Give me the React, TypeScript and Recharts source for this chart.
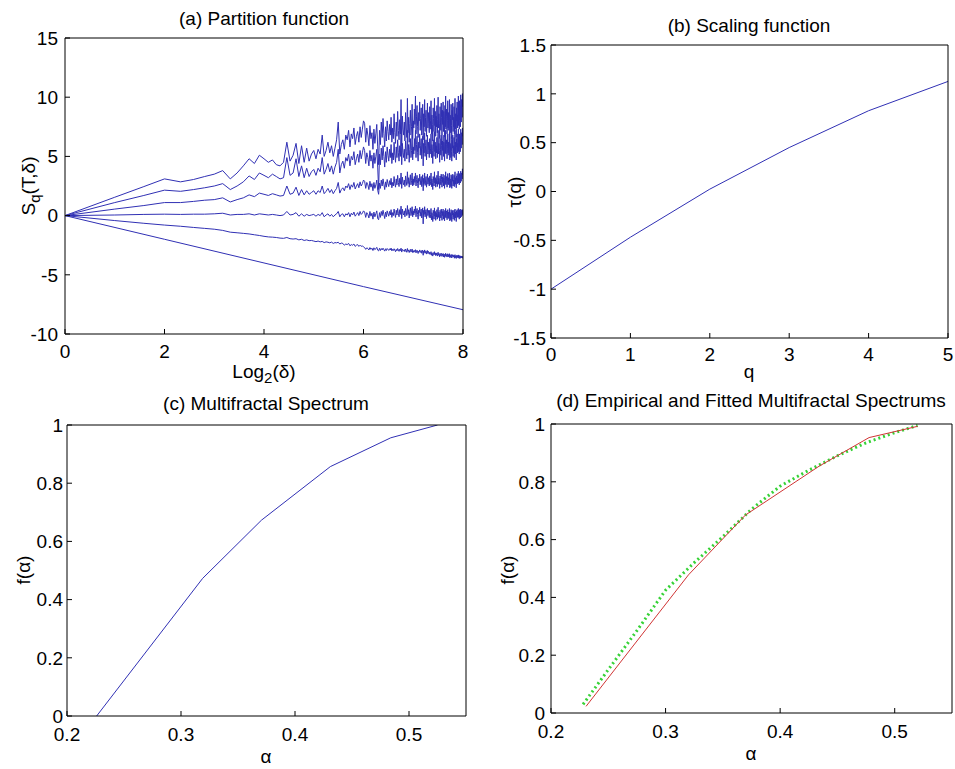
import React from 'react'
import { LineChart, Line, XAxis, YAxis } from 'recharts'

const FONT = '"Liberation Sans", Arial, Helvetica, sans-serif'
const BLUE = '#3030b4'
const RED = '#d03434'
const GREEN = '#36d236'

// (a) partition function S_q(T, delta), one value per box size delta = 1..256
const S_Q0_DELTA = [1, 4, 16, 64, 256]
const S_Q0 = [0, -2, -4, -6, -7.95]

const S_Q1 = [
  0, -0.42, -0.65, -0.8, -0.9, -1.0, -1.08, -1.15, -1.25, -1.4, -1.45, -1.5, -1.55, -1.62, -1.68, -1.75,
  -1.8, -1.82, -1.85, -1.9, -1.92, -1.85, -1.95, -1.98, -1.95, -2.05, -2.0, -2.1, -2.05, -2.12, -2.1, -2.15,
  -2.2, -2.15, -2.22, -2.18, -2.28, -2.22, -2.25, -2.3, -2.24, -2.35, -2.28, -2.3, -2.25, -2.4, -2.32, -2.35,
  -2.5, -2.4, -2.45, -2.35, -2.55, -2.45, -2.5, -2.4, -2.6, -2.5, -2.45, -2.6, -2.5, -2.6, -2.55, -2.65,
  -2.7, -2.85, -2.72, -2.78, -2.9, -2.7, -2.85, -2.75, -2.95, -2.72, -2.88, -2.8, -2.68, -2.92, -2.98, -2.76,
  -2.95, -2.78, -2.9, -2.75, -2.88, -3.0, -2.8, -2.95, -2.78, -2.86, -2.94, -2.8, -2.9, -2.74, -2.98, -2.85,
  -2.95, -2.8, -2.92, -3.05, -2.85, -2.98, -2.78, -2.9, -3.02, -2.84, -2.96, -2.75, -3.08, -2.85, -2.94, -3.0,
  -2.88, -3.05, -2.82, -2.95, -3.1, -2.78, -3.02, -2.9, -3.12, -2.95, -2.85, -3.08, -2.98, -2.82, -3.12, -2.96,
  -3.1, -2.95, -3.05, -2.88, -3.15, -3.0, -2.92, -3.1, -3.2, -3.0, -3.05, -2.9, -3.12, -3.02, -2.95, -3.18,
  -3.05, -2.92, -3.35, -3.0, -3.12, -2.9, -3.18, -3.05, -2.98, -3.25, -3.08, -2.95, -3.2, -3.02, -3.12, -3.25,
  -3.1, -3.28, -3.2, -3.05, -3.35, -3.15, -3.25, -3.42, -3.12, -3.2, -3.32, -3.05, -3.25, -3.15, -3.38, -3.2,
  -3.3, -3.15, -3.42, -3.28, -3.1, -3.35, -3.22, -3.3, -3.48, -3.2, -3.3, -3.4, -3.18, -3.28, -3.45, -3.25,
  -3.35, -3.2, -3.48, -3.28, -3.38, -3.52, -3.25, -3.4, -3.18, -3.45, -3.32, -3.28, -3.5, -3.38, -3.22, -3.45,
  -3.3, -3.48, -3.4, -3.22, -3.55, -3.35, -3.4, -3.52, -3.28, -3.45, -3.58, -3.32, -3.42, -3.3, -3.5, -3.38,
  -3.5, -3.35, -3.6, -3.42, -3.3, -3.55, -3.4, -3.48, -3.62, -3.38, -3.46, -3.35, -3.55, -3.42, -3.5, -3.32,
  -3.58, -3.42, -3.62, -3.38, -3.52, -3.45, -3.6, -3.4, -3.5, -3.58, -3.42, -3.5, -3.55, -3.45, -3.6, -3.5,
]

const S_Q2 = [
  0, 0.05, 0.1, 0.12, 0.1, 0.12, 0.12, 0.15, 0.2, 0.05, 0.1, 0.1, 0.15, 0.05, 0.15, 0.1,
  0.05, 0.1, 0.05, 0.0, 0.05, 0.35, 0.05, 0.1, 0.25, -0.05, 0.15, -0.05, 0.1, 0.0, 0.05, 0.1,
  -0.05, 0.1, 0.0, 0.25, -0.1, 0.05, 0.15, -0.05, 0.1, -0.1, 0.05, 0.15, 0.35, -0.1, 0.1, 0.15,
  -0.1, 0.15, 0.05, 0.25, -0.1, 0.2, 0.05, 0.3, -0.05, 0.1, 0.25, 0.0, 0.35, 0.1, 0.2, 0.4,
  0.3, -0.15, 0.25, 0.1, -0.2, 0.35, -0.05, 0.2, -0.3, 0.3, -0.1, 0.15, 0.4, -0.25, -0.35, 0.25,
  -0.15, 0.35, 0.0, 0.45, 0.1, -0.25, 0.3, -0.1, 0.4, 0.15, -0.05, 0.35, 0.05, 0.5, -0.15, 0.25,
  0.0, 0.55, 0.15, -0.15, 0.45, 0.05, 0.6, 0.2, -0.1, 0.5, 0.1, 0.8, -0.25, 0.55, 0.2, 0.05,
  0.4, -0.1, 0.6, 0.3, 0.0, 0.85, 0.1, 0.5, -0.2, 0.35, 0.65, 0.0, 0.3, 0.75, -0.1, 0.4,
  0.05, 0.55, 0.2, 0.8, -0.1, 0.4, 0.6, 0.1, -0.3, 0.45, 0.25, 0.7, -0.05, 0.35, 0.55, -0.2,
  0.2, 0.65, -0.7, 0.45, 0.1, 0.75, -0.1, 0.35, 0.5, -0.25, 0.3, 0.6, 0.0, 0.45, 0.15, -0.15,
  0.45, -0.2, 0.1, 0.6, -0.35, 0.25, 0.0, -0.5, 0.45, 0.2, -0.3, 0.65, -0.05, 0.35, -0.4, 0.2,
  -0.1, 0.5, -0.3, 0.15, 0.7, -0.15, 0.3, 0.05, -0.45, 0.45, 0.1, -0.2, 0.55, 0.2, -0.4, 0.35,
  0.0, 0.55, -0.3, 0.35, 0.1, -0.45, 0.45, -0.1, 0.6, -0.2, 0.25, 0.4, -0.35, 0.05, 0.5, -0.2,
  0.3, -0.25, 0.05, 0.6, -0.45, 0.25, 0.15, -0.35, 0.5, -0.1, -0.5, 0.35, 0.05, 0.45, -0.3, 0.2,
  -0.1, 0.45, -0.4, 0.2, 0.55, -0.2, 0.3, 0.0, -0.5, 0.4, 0.1, 0.5, -0.15, 0.25, -0.05, 0.6,
  -0.15, 0.35, -0.3, 0.5, 0.05, 0.4, -0.2, 0.55, 0.15, -0.1, 0.45, 0.25, 0.0, 0.5, 0.1, 0.3,
]

const S_Q3 = [
  0, 0.55, 0.85, 1.1, 1.1, 1.2, 1.3, 1.35, 1.5, 1.15, 1.35, 1.5, 1.75, 1.6, 1.9, 1.8,
  1.7, 1.85, 1.75, 1.65, 1.7, 2.5, 1.8, 1.9, 2.4, 1.7, 2.2, 1.75, 2.1, 1.8, 1.95, 2.1,
  1.8, 2.1, 1.95, 2.5, 1.85, 2.05, 2.3, 1.95, 2.2, 1.85, 2.1, 2.3, 2.8, 1.9, 2.2, 2.35,
  2.1, 2.5, 2.35, 2.7, 2.2, 2.6, 2.4, 2.8, 2.25, 2.5, 2.7, 2.35, 2.85, 2.5, 2.7, 3.0,
  2.9, 2.3, 2.8, 2.6, 2.2, 2.9, 2.4, 2.7, 2.1, 2.8, 2.3, 2.6, 3.0, 2.15, 1.8, 2.75,
  2.3, 3.0, 2.5, 3.1, 2.65, 2.2, 2.85, 2.4, 3.05, 2.7, 2.45, 2.95, 2.6, 3.15, 2.35, 2.8,
  2.5, 3.3, 2.7, 2.4, 3.1, 2.6, 3.4, 2.8, 2.45, 3.15, 2.65, 3.6, 2.3, 3.25, 2.8, 2.6,
  3.0, 2.45, 3.35, 2.9, 2.55, 3.7, 2.7, 3.2, 2.4, 3.0, 3.45, 2.6, 2.95, 3.6, 2.5, 3.1,
  2.6, 3.3, 2.8, 3.6, 2.5, 3.05, 3.4, 2.7, 2.35, 3.15, 2.9, 3.5, 2.6, 3.0, 3.3, 2.45,
  2.8, 3.45, 2.1, 3.15, 2.7, 3.6, 2.55, 3.0, 3.3, 2.4, 2.95, 3.5, 2.65, 3.2, 2.8, 2.5,
  3.35, 2.6, 2.9, 3.6, 2.45, 3.1, 2.8, 2.2, 3.3, 3.0, 2.5, 3.7, 2.75, 3.2, 2.4, 3.05,
  2.7, 3.4, 2.45, 2.95, 3.75, 2.65, 3.15, 2.85, 2.3, 3.35, 2.9, 2.6, 3.5, 3.05, 2.4, 3.25,
  2.8, 3.5, 2.5, 3.2, 2.95, 2.3, 3.4, 2.7, 3.7, 2.6, 3.1, 3.3, 2.4, 2.9, 3.55, 2.65,
  3.2, 2.6, 2.9, 3.6, 2.35, 3.1, 2.95, 2.45, 3.45, 2.75, 2.3, 3.3, 2.9, 3.5, 2.5, 3.0,
  2.7, 3.4, 2.45, 3.05, 3.7, 2.65, 3.2, 2.85, 2.35, 3.35, 3.0, 3.55, 2.7, 3.15, 2.8, 3.75,
  2.75, 3.3, 2.6, 3.55, 3.0, 3.4, 2.75, 3.75, 3.2, 2.9, 3.6, 3.35, 3.1, 3.95, 3.45, 3.7,
]

const S_Q4 = [
  0, 1.1, 1.7, 2.15, 2.05, 2.2, 2.35, 2.5, 2.7, 2.2, 2.5, 2.85, 3.35, 3.05, 3.6, 3.4,
  3.2, 3.5, 3.3, 3.1, 3.2, 4.9, 3.4, 3.6, 4.8, 3.3, 4.2, 3.2, 4.0, 3.3, 3.7, 3.9,
  3.4, 4.0, 3.7, 4.9, 3.5, 3.9, 4.4, 3.7, 4.2, 3.5, 4.1, 4.5, 5.6, 3.6, 4.3, 4.6,
  4.0, 4.9, 4.6, 5.2, 4.2, 5.0, 4.7, 5.4, 4.3, 4.8, 5.2, 4.5, 5.5, 4.8, 5.3, 5.8,
  5.5, 4.4, 5.3, 4.9, 4.2, 5.5, 4.6, 5.1, 4.0, 5.3, 4.4, 5.0, 5.6, 4.1, 2.2, 5.2,
  4.3, 5.7, 4.7, 5.9, 5.0, 4.1, 5.4, 4.5, 5.8, 5.1, 4.6, 5.6, 4.9, 6.0, 4.4, 5.3,
  4.7, 6.2, 5.1, 4.5, 5.8, 4.9, 6.4, 5.3, 4.6, 5.9, 5.0, 7.0, 4.3, 6.1, 5.3, 4.9,
  5.6, 4.6, 6.3, 5.4, 4.8, 7.2, 5.1, 6.0, 4.5, 5.6, 6.5, 4.9, 5.5, 6.8, 4.7, 5.8,
  5.2, 6.5, 5.5, 7.2, 4.9, 6.0, 6.7, 5.3, 4.6, 6.2, 5.7, 6.9, 5.1, 5.9, 6.5, 4.8,
  5.6, 6.7, 4.2, 6.1, 5.3, 7.0, 5.0, 5.9, 6.4, 4.7, 5.8, 6.8, 5.2, 6.2, 5.5, 4.9,
  6.5, 5.2, 5.7, 6.9, 4.9, 6.0, 5.5, 4.4, 6.4, 5.8, 5.0, 7.1, 5.4, 6.2, 4.8, 5.9,
  5.3, 6.6, 4.9, 5.7, 7.2, 5.2, 6.1, 5.5, 4.5, 6.5, 5.6, 5.1, 6.8, 5.9, 4.7, 6.3,
  5.5, 6.8, 5.0, 6.2, 5.8, 4.6, 6.6, 5.3, 7.2, 5.2, 6.0, 6.4, 4.8, 5.7, 6.9, 5.3,
  6.2, 5.1, 5.6, 7.0, 4.7, 6.1, 5.8, 4.9, 6.7, 5.4, 4.6, 6.4, 5.7, 6.8, 5.0, 5.9,
  5.3, 6.6, 4.9, 6.0, 7.2, 5.2, 6.2, 5.6, 4.7, 6.5, 5.8, 6.9, 5.3, 6.1, 5.5, 7.3,
  5.4, 6.4, 5.2, 6.9, 5.8, 6.7, 5.4, 7.3, 6.2, 5.7, 7.0, 6.5, 6.0, 7.4, 6.7, 7.1,
]

const S_Q5 = [
  0, 1.55, 2.45, 3.1, 2.85, 3.05, 3.3, 3.5, 3.8, 3.1, 3.6, 4.2, 4.8, 4.4, 5.1, 4.8,
  4.5, 4.7, 4.3, 4.2, 4.5, 6.2, 4.6, 5.1, 6.1, 4.4, 5.9, 4.5, 5.7, 4.6, 5.2, 5.5,
  4.8, 5.6, 5.2, 6.8, 5.0, 5.5, 6.2, 5.3, 5.9, 5.0, 5.7, 6.4, 7.9, 5.2, 6.0, 6.4,
  5.6, 6.8, 6.4, 7.2, 5.8, 6.9, 6.5, 7.4, 6.0, 6.7, 7.1, 6.2, 7.5, 6.6, 7.3, 8.0,
  7.8, 6.2, 7.4, 6.8, 5.9, 7.6, 6.5, 7.0, 5.6, 7.3, 6.1, 6.9, 7.7, 5.8, 4.3, 7.2,
  6.0, 7.9, 6.6, 8.2, 6.9, 5.8, 7.5, 6.3, 8.0, 7.1, 6.4, 7.7, 6.8, 8.3, 6.2, 7.4,
  6.5, 8.6, 7.0, 6.1, 7.9, 6.7, 8.8, 7.2, 6.4, 8.1, 6.9, 9.8, 5.9, 8.4, 7.3, 6.8,
  7.9, 6.3, 8.7, 7.4, 6.6, 9.9, 7.0, 8.3, 6.2, 7.8, 8.9, 6.8, 7.5, 9.4, 6.5, 8.0,
  7.4, 9.0, 7.7, 10.1, 6.9, 8.4, 9.3, 7.5, 6.6, 8.7, 8.0, 9.6, 7.2, 8.2, 9.1, 6.8,
  7.9, 9.4, 6.4, 8.6, 7.5, 9.8, 7.1, 8.3, 8.9, 6.7, 8.1, 9.5, 7.4, 8.7, 7.8, 7.0,
  9.2, 7.3, 8.0, 9.7, 6.9, 8.5, 7.7, 6.3, 9.1, 8.2, 7.1, 9.9, 7.6, 8.8, 6.7, 8.4,
  7.5, 9.3, 7.0, 8.1, 10.0, 7.4, 8.6, 7.8, 6.5, 9.2, 7.9, 7.2, 9.5, 8.3, 6.8, 8.9,
  7.7, 9.6, 7.1, 8.8, 8.1, 6.6, 9.3, 7.5, 10.1, 7.3, 8.4, 9.0, 6.9, 8.0, 9.7, 7.4,
  8.7, 7.2, 7.9, 9.8, 6.7, 8.5, 8.2, 7.0, 9.4, 7.6, 6.5, 8.9, 8.1, 9.5, 7.1, 8.3,
  7.5, 9.2, 6.9, 8.4, 9.9, 7.3, 8.6, 7.8, 6.6, 9.1, 8.0, 9.6, 7.4, 8.5, 7.7, 10.1,
  7.6, 9.0, 7.3, 9.7, 8.1, 9.3, 7.5, 10.2, 8.6, 7.9, 9.8, 9.1, 8.3, 10.3, 9.2, 9.7,
]

// (b) scaling function tau(q)
const Q_VALUES = [0, 1, 2, 3, 4, 5]
const TAU = [-1, -0.468, 0.024, 0.45, 0.827, 1.127]

// (c) multifractal spectrum f(alpha)
const ALPHA = [0.226, 0.319, 0.3706, 0.431, 0.484, 0.525]
const F_ALPHA = [0, 0.473, 0.673, 0.857, 0.956, 1]

// (d) empirical (red) and fitted (green dotted) spectra
const EMP_ALPHA = [0.2306, 0.32, 0.3697, 0.434, 0.4776, 0.52]
const EMP_F = [0.023, 0.478, 0.685, 0.854, 0.953, 0.992]
const FIT_ALPHA = [0.228, 0.25, 0.275, 0.3, 0.325, 0.35, 0.375, 0.4, 0.425, 0.45, 0.475, 0.5, 0.52]
const FIT_F = [0.03, 0.15, 0.285, 0.425, 0.52, 0.61, 0.705, 0.785, 0.84, 0.89, 0.935, 0.97, 0.995]

type Pt = { x: number; y: number }
const zip = (xs: number[], ys: number[]): Pt[] => xs.map((x, i) => ({ x, y: ys[i] }))
const byDelta = (ys: number[]): Pt[] => ys.map((y, i) => ({ x: i + 1, y }))

const tickStyle = { fontSize: 19, fontFamily: FONT, fill: '#000' }
const blackLine = { stroke: '#000', strokeWidth: 1 }

interface FrameOpts {
  data: Pt[]
  xDomain: [number, number]
  xTicks: number[]
  xLog?: boolean
  xFormat?: (v: number) => string
  yDomain: [number, number]
  yTicks: number[]
  left: number
  bottom: number
  xTickMargin: number
  yTickMargin: number
}

// boxed axes with inward ticks on all four sides. The top and right axes are
// 1px thick (a zero-sized axis is not drawn) and get an unstroked copy of the
// series so they have a scale.
function frame(o: FrameOpts) {
  const scale = o.xLog ? 'log' : 'linear'
  return [
    <XAxis key='xb' xAxisId='b' dataKey='x' type='number' scale={scale} domain={o.xDomain} ticks={o.xTicks}
      tickFormatter={o.xFormat} allowDataOverflow height={o.bottom} tickSize={-5} tickMargin={o.xTickMargin}
      tick={tickStyle} axisLine={blackLine} tickLine={blackLine} interval={0} />,
    <XAxis key='xt' xAxisId='t' orientation='top' dataKey='x' type='number' scale={scale} domain={o.xDomain}
      ticks={o.xTicks} allowDataOverflow height={1} tickSize={-5} tick={false} axisLine={blackLine}
      tickLine={blackLine} interval={0} />,
    <YAxis key='yl' yAxisId='l' type='number' domain={o.yDomain} ticks={o.yTicks} allowDataOverflow width={o.left}
      tickSize={-5} tickMargin={o.yTickMargin} tick={tickStyle} axisLine={blackLine} tickLine={blackLine} interval={0} />,
    <YAxis key='yr' yAxisId='r' orientation='right' type='number' domain={o.yDomain} ticks={o.yTicks} allowDataOverflow
      width={1} tickSize={-5} tick={false} axisLine={blackLine} tickLine={blackLine} interval={0} />,
    <Line key='frame' xAxisId='t' yAxisId='r' data={o.data} dataKey='y' stroke='none' dot={false} activeDot={false}
      isAnimationActive={false} />,
  ]
}

interface TextProps {
  x: number
  y: number
  vertical?: boolean
  children: React.ReactNode
}

const PlotText: React.FC<TextProps> = ({ x, y, vertical, children }) => (
  <text x={x} y={y} textAnchor='middle' dominantBaseline='central' fontSize={19} fontFamily={FONT} fill='#000'
    transform={vertical ? `rotate(-90 ${x} ${y})` : undefined}>
    {children}
  </text>
)

interface PanelProps {
  left: number
  top: number
  width: number
  height: number
  chart: React.ReactNode
  texts: React.ReactNode
}

const Panel: React.FC<PanelProps> = ({ left, top, width, height, chart, texts }) => (
  <div style={{ position: 'absolute', left, top, width, height }}>
    {chart}
    <svg width={width} height={height} style={{ position: 'absolute', left: 0, top: 0, pointerEvents: 'none' }}>
      {texts}
    </svg>
  </div>
)

const lineProps = { xAxisId: 'b', yAxisId: 'l', type: 'linear' as const, dot: false, isAnimationActive: false, dataKey: 'y' }

const App: React.FC = () => {
  const partition = [S_Q1, S_Q2, S_Q3, S_Q4, S_Q5].map(byDelta)
  const tauPts = zip(Q_VALUES, TAU)
  const spectrumPts = zip(ALPHA, F_ALPHA)
  const fitPts = zip(FIT_ALPHA, FIT_F)
  const empPts = zip(EMP_ALPHA, EMP_F)

  return (
    <div style={{ position: 'fixed', left: 0, top: 0, width: 955, height: 769, background: '#fff', overflow: 'hidden' }}>
      <Panel left={0} top={0} width={477} height={385}
        chart={
          <LineChart width={477} height={385} margin={{ top: 37, right: 13, bottom: 0, left: 0 }}>
            {frame({
              data: partition[4],
              xDomain: [1, 256], xTicks: [1, 4, 16, 64, 256], xLog: true, xFormat: (v) => String(Math.log2(v)),
              yDomain: [-10, 15], yTicks: [-10, -5, 0, 5, 10, 15], left: 65, bottom: 51, xTickMargin: 16, yTickMargin: 12,
            })}
            <Line {...lineProps} data={zip(S_Q0_DELTA, S_Q0)} stroke={BLUE} strokeWidth={1} />
            {partition.map((pts, i) => (
              <Line key={i} {...lineProps} data={pts} stroke={BLUE} strokeWidth={1} />
            ))}
          </LineChart>
        }
        texts={
          <>
            <PlotText x={264} y={18}>(a) Partition function</PlotText>
            <PlotText x={264} y={371}>Log<tspan dy={6} fontSize={15}>2</tspan><tspan dy={-6}>(δ)</tspan></PlotText>
            <PlotText x={28} y={186} vertical>S<tspan dy={6} fontSize={15}>q</tspan><tspan dy={-6}>(T,δ)</tspan></PlotText>
          </>
        }
      />

      <Panel left={477} top={0} width={478} height={385}
        chart={
          <LineChart width={478} height={385} margin={{ top: 44, right: 6, bottom: 0, left: 0 }}>
            {frame({
              data: tauPts,
              xDomain: [0, 5], xTicks: [0, 1, 2, 3, 4, 5],
              yDomain: [-1.5, 1.5], yTicks: [-1.5, -1, -0.5, 0, 0.5, 1, 1.5], left: 74, bottom: 47, xTickMargin: 15, yTickMargin: 10,
            })}
            <Line {...lineProps} data={tauPts} stroke={BLUE} strokeWidth={1} />
          </LineChart>
        }
        texts={
          <>
            <PlotText x={272} y={25}>(b) Scaling function</PlotText>
            <PlotText x={272} y={371}>q</PlotText>
            <PlotText x={37} y={192} vertical>τ(q)</PlotText>
          </>
        }
      />

      <Panel left={0} top={385} width={477} height={384}
        chart={
          <LineChart width={477} height={384} margin={{ top: 39, right: 10, bottom: 0, left: 0 }}>
            {frame({
              data: spectrumPts,
              xDomain: [0.2, 0.55], xTicks: [0.2, 0.3, 0.4, 0.5],
              yDomain: [0, 1], yTicks: [0, 0.2, 0.4, 0.6, 0.8, 1], left: 67, bottom: 53, xTickMargin: 17, yTickMargin: 9,
            })}
            <Line {...lineProps} data={spectrumPts} stroke={BLUE} strokeWidth={1} />
          </LineChart>
        }
        texts={
          <>
            <PlotText x={266} y={18}>(c) Multifractal Spectrum</PlotText>
            <PlotText x={266} y={371}>α</PlotText>
            <PlotText x={23} y={185} vertical>f(α)</PlotText>
          </>
        }
      />

      <Panel left={477} top={385} width={478} height={384}
        chart={
          <LineChart width={478} height={384} margin={{ top: 38, right: 2, bottom: 0, left: 0 }}>
            {frame({
              data: fitPts,
              xDomain: [0.2, 0.55], xTicks: [0.2, 0.3, 0.4, 0.5],
              yDomain: [0, 1], yTicks: [0, 0.2, 0.4, 0.6, 0.8, 1], left: 74, bottom: 56, xTickMargin: 17, yTickMargin: 11,
            })}
            <Line {...lineProps} data={fitPts} stroke={GREEN} strokeWidth={3} strokeDasharray='2 3' />
            <Line {...lineProps} data={empPts} stroke={RED} strokeWidth={1} />
          </LineChart>
        }
        texts={
          <>
            <PlotText x={274} y={15}>(d) Empirical and Fitted Multifractal Spectrums</PlotText>
            <PlotText x={274} y={368}>α</PlotText>
            <PlotText x={30} y={185} vertical>f(α)</PlotText>
          </>
        }
      />
    </div>
  )
}

export default App
